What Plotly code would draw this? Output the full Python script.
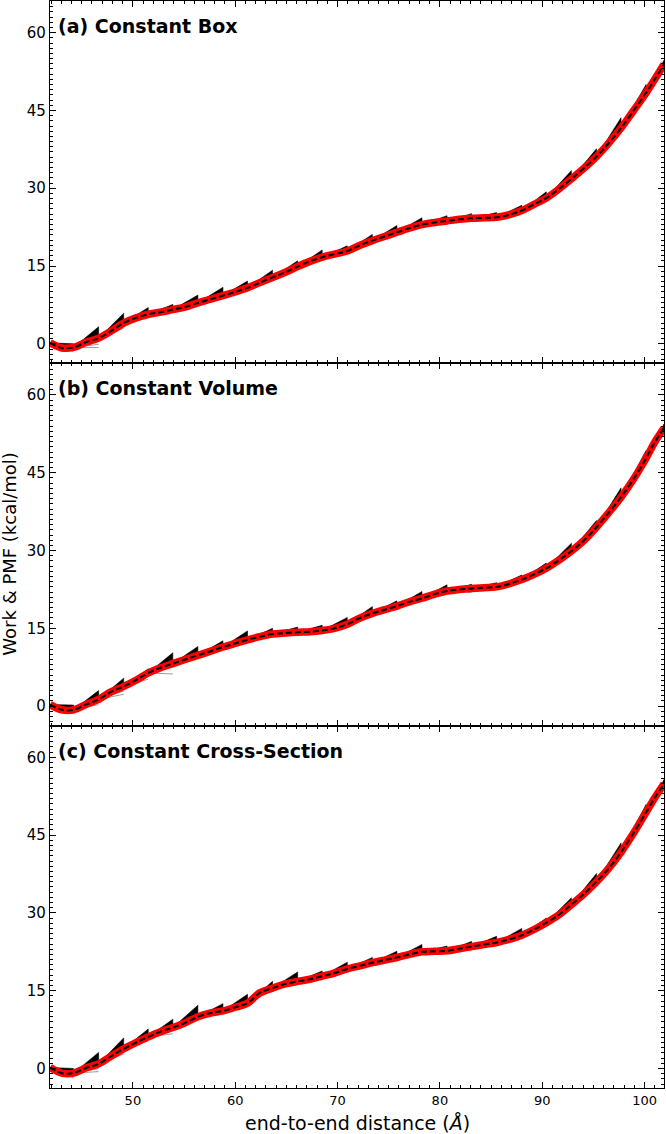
import plotly.graph_objects as go
from plotly.subplots import make_subplots

# ---------------- data ----------------
# distance grid: segment edges (even index) and segment midpoints (odd index)
dist = [41.9, 43.05, 44.2, 45.4, 46.65, 47.9, 49.1, 50.3, 51.5, 52.7, 53.9, 55.1,
        56.35, 57.6, 58.8, 60.0, 61.2, 62.4, 63.65, 64.9, 66.1, 67.3, 68.5, 69.7,
        70.95, 72.2, 73.4, 74.6, 75.8, 77.0, 78.25, 79.5, 80.7, 81.9, 83.1, 84.3,
        85.55, 86.8, 88.0, 89.2, 90.4, 91.6, 92.85, 94.1, 95.3, 96.5, 97.7, 98.9,
        100.15, 101.0, 101.9]

pmf_box = [0.2, -0.8, -0.7, 0.3, 1.1, 2.5, 4.0, 5.0, 5.7, 6.1, 6.6, 7.1,
           7.9, 8.6, 9.3, 10.0, 10.8, 11.8, 12.8, 13.8, 14.9, 15.9, 16.7, 17.3,
           17.9, 19.0, 19.9, 20.7, 21.5, 22.3, 23.0, 23.4, 23.7, 24.0, 24.2, 24.3,
           24.4, 24.9, 25.7, 26.9, 28.1, 29.8, 31.8, 33.9, 36.1, 38.7, 41.6, 44.9,
           48.4, 51.0, 53.9]

pmf_volume = [0.3, -0.7, -0.7, 0.3, 1.3, 2.8, 3.8, 5.0, 6.4, 7.4, 8.2, 9.0,
              9.8, 10.6, 11.4, 12.1, 12.8, 13.4, 13.9, 14.1, 14.25, 14.35, 14.6, 15.0,
              15.8, 17.0, 17.9, 18.6, 19.3, 20.1, 20.8, 21.6, 22.2, 22.5, 22.7, 22.85,
              23.0, 23.6, 24.4, 25.4, 26.6, 28.1, 29.9, 32.0, 34.5, 37.3, 40.3, 43.7,
              47.8, 50.9, 53.6]

pmf_cross = [0.2, -0.9, -0.9, 0.1, 0.9, 2.4, 3.8, 5.0, 6.1, 7.1, 7.9, 8.8,
             10.0, 10.7, 11.1, 11.8, 12.6, 14.6, 15.5, 16.3, 16.8, 17.2, 17.8, 18.4,
             19.2, 19.8, 20.4, 20.9, 21.4, 22.0, 22.5, 22.6, 22.7, 23.1, 23.5, 23.9,
             24.3, 24.9, 25.7, 26.8, 28.1, 29.6, 31.6, 33.7, 36.0, 38.6, 41.7, 45.3,
             49.4, 52.2, 54.9]

# work-curve fans: excursion above / below the PMF at the end of each pulling segment
fan_hi_box = [0.7, 2.2, 1.9, 1.3, 1.0, 1.5, 1.6, 1.3, 1.4, 1.1, 1.4, 1.0, 1.2,
              1.3, 1.3, 1.0, 0.9, 0.9, 1.0, 1.2, 1.6, 1.5, 2.0, 1.6, 0.8]
fan_lo_box = [-0.8, -1.8, -1.0, -0.8, -0.5, -0.5, -0.5, -0.5, -0.5, -0.5, -0.5, -0.5, -0.5,
              -0.5, -0.5, -0.5, -0.5, -0.5, -0.5, -0.6, -0.6, -0.6, -0.6, -0.6, -0.5]
fan_lo2_box = [-0.4, -1.2, -0.6, -0.4, -0.3, -0.3, -0.3, -0.3, -0.3, -0.3, -0.3, -0.3, -0.3,
               -0.3, -0.3, -0.3, -0.3, -0.3, -0.3, -0.3, -0.3, -0.3, -0.3, -0.3, -0.3]

fan_hi_volume = [0.9, 1.7, 1.6, 0.8, 2.1, 1.7, 1.2, 1.7, 1.1, 1.0, 1.0, 1.3, 1.3,
                 1.0, 1.3, 1.2, 0.8, 0.8, 0.9, 1.0, 1.5, 1.3, 1.8, 1.5, 0.8]
fan_lo_volume = [-0.8, -1.0, -1.5, -1.2, -2.0, -0.5, -0.5, -0.5, -0.5, -0.5, -0.5, -0.5, -0.5,
                 -0.5, -0.5, -0.5, -0.8, -0.5, -0.5, -0.6, -0.6, -0.6, -0.6, -0.6, -0.5]
fan_lo2_volume = [-0.4, -0.6, -0.9, -0.7, -0.6, -0.3, -0.3, -0.3, -0.3, -0.3, -0.3, -0.3, -0.3,
                  -0.3, -0.3, -0.3, -0.4, -0.3, -0.3, -0.3, -0.3, -0.3, -0.3, -0.3, -0.3]

fan_hi_cross = [0.9, 2.2, 2.1, 1.5, 1.6, 2.2, 1.4, 1.7, 1.3, 1.8, 1.0, 1.3, 1.0,
                1.2, 1.4, 0.9, 1.0, 1.2, 1.3, 0.9, 1.3, 1.6, 1.8, 1.5, 0.8]
fan_lo_cross = [-0.9, -1.5, -1.0, -0.8, -1.2, -0.5, -0.5, -0.5, -0.5, -0.5, -0.5, -0.5, -0.5,
                -0.5, -0.5, -0.5, -0.8, -0.5, -0.5, -0.6, -0.6, -0.6, -0.6, -0.6, -0.5]
fan_lo2_cross = [-0.5, -0.9, -0.6, -0.4, -0.6, -0.3, -0.3, -0.3, -0.3, -0.3, -0.3, -0.3, -0.3,
                 -0.3, -0.3, -0.3, -0.4, -0.3, -0.3, -0.3, -0.3, -0.3, -0.3, -0.3, -0.3]

panel_titles = ["(a) Constant Box", "(b) Constant Volume", "(c) Constant Cross-Section"]
x_ticks = [50, 60, 70, 80, 90, 100]
y_ticks = [0, 15, 30, 45, 60]

# ---------------- figure ----------------
FONT = "DejaVu Sans"
fig = make_subplots(rows=3, cols=1, shared_xaxes=True, vertical_spacing=0)

panels = [(pmf_box, fan_hi_box, fan_lo_box, fan_lo2_box),
          (pmf_volume, fan_hi_volume, fan_lo_volume, fan_lo2_volume),
          (pmf_cross, fan_hi_cross, fan_lo_cross, fan_lo2_cross)]

for r, (pmf, hi, lo, lo2) in enumerate(panels, start=1):
    fx, fy, gx, gy = [], [], [], []
    for k in range(len(hi)):
        s, m, e = 2 * k, 2 * k + 1, 2 * k + 2
        fx += [dist[s], dist[e], dist[e], dist[m], dist[s], None]
        fy += [pmf[s], pmf[e] + hi[k], pmf[e], pmf[m], pmf[s], None]
        gx += [dist[s], dist[e], None, dist[s], dist[e], None]
        gy += [pmf[s], pmf[e] + lo[k], None, pmf[s], pmf[e] + lo2[k], None]
    fig.add_trace(go.Scatter(x=gx, y=gy, mode="lines",
                             line=dict(color="#707070", width=0.7),
                             hoverinfo="skip", showlegend=False), row=r, col=1)
    fig.add_trace(go.Scatter(x=fx, y=fy, mode="lines", fill="toself",
                             fillcolor="black", line=dict(color="black", width=0.6),
                             hoverinfo="skip", showlegend=False), row=r, col=1)
    fig.add_trace(go.Scatter(x=dist, y=pmf, mode="lines",
                             line=dict(color="#ff0000", width=7.5, shape="spline"),
                             showlegend=False), row=r, col=1)
    fig.add_trace(go.Scatter(x=dist, y=pmf, mode="lines",
                             line=dict(color="black", width=2, dash="6px,3px", shape="spline"),
                             showlegend=False), row=r, col=1)

axis_common = dict(showline=True, linecolor="black", linewidth=1.3, mirror="allticks",
                   ticks="inside", ticklen=6, tickwidth=1, tickcolor="black",
                   showgrid=False, zeroline=False)

for r in range(1, 4):
    fig.update_xaxes(range=[41.9, 101.9], tickvals=x_ticks,
                     minor=dict(dtick=1, tick0=0, ticks="inside", ticklen=3,
                                tickcolor="black", showgrid=False),
                     tickfont=dict(family=FONT, size=13, color="black"),
                     row=r, col=1, **axis_common)
    fig.update_yaxes(range=[-3.76, 66.1], tickvals=y_ticks,
                     minor=dict(dtick=1, tick0=0, ticks="inside", ticklen=3,
                                tickcolor="black", showgrid=False),
                     tickfont=dict(family=FONT, size=15, color="black"),
                     row=r, col=1, **axis_common)

annotations = []
for i, t in enumerate(panel_titles):
    ysuf = "" if i == 0 else str(i + 1)
    annotations.append(dict(text="<b>" + t + "</b>", xref="x" + ysuf + " domain",
                            yref="y" + ysuf + " domain", x=0.01, y=0.931,
                            xanchor="left", yanchor="middle", showarrow=False,
                            font=dict(family=FONT, size=19, color="black")))
annotations.append(dict(text="end-to-end distance (<i>Å</i>)", xref="paper", yref="paper",
                        x=0.5, y=-0.032, xanchor="center", yanchor="middle",
                        showarrow=False, font=dict(family=FONT, size=19, color="black")))
annotations.append(dict(text="Work & PMF (kcal/mol)", xref="paper", yref="paper",
                        x=-0.066, y=0.492, xanchor="center", yanchor="middle",
                        textangle=-90, showarrow=False,
                        font=dict(family=FONT, size=18, color="black")))

fig.update_layout(width=666, height=1134, margin=dict(l=50, r=2, t=1, b=46),
                  paper_bgcolor="white", plot_bgcolor="white",
                  annotations=annotations, font=dict(family=FONT, color="black"))

fig.write_html("out.html", config={"displayModeBar": False},
               post_script="document.body.style.margin='0';document.body.style.overflow='hidden';")
